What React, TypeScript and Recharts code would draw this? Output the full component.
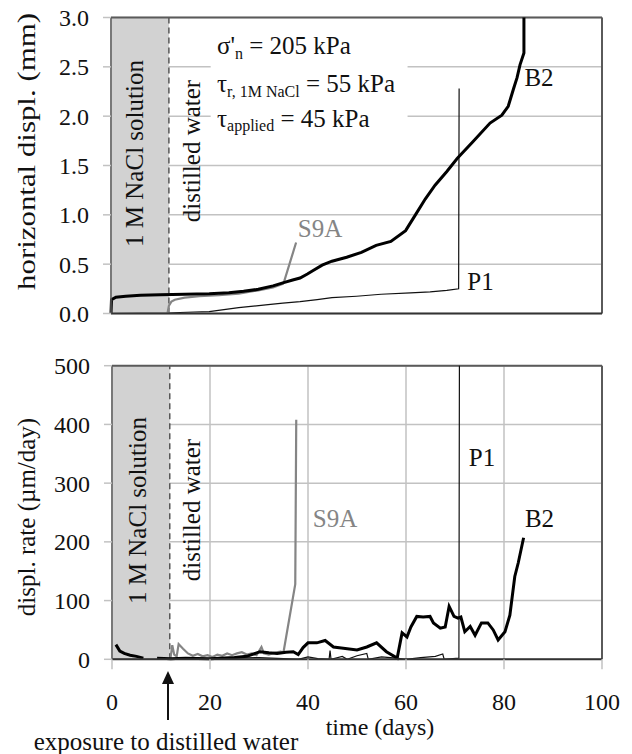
import React from 'react';
import { LineChart, Line, XAxis, YAxis, CartesianGrid, ReferenceArea, ReferenceLine } from 'recharts';

const timeTicks = [0, 20, 40, 60, 80, 100];
const displTicks = [0, 0.5, 1, 1.5, 2, 2.5, 3];
const rateTicks = [0, 100, 200, 300, 400, 500];
const exposureDay = 11.8;

// horizontal displacement (mm) vs time (days)
const b2Displ: [number, number][] = [
  [0, 0], [0.1, 0.14], [1, 0.165], [3, 0.175], [6, 0.185], [10, 0.19], [15, 0.195], [20, 0.2],
  [24, 0.21], [27, 0.225], [30, 0.245], [33, 0.28], [35, 0.31], [37, 0.34], [38.5, 0.36], [40, 0.4],
  [41, 0.43], [43, 0.49], [45, 0.53], [48, 0.57], [51, 0.62], [54, 0.69], [57, 0.73], [60, 0.84],
  [62, 1.0], [64, 1.16], [66, 1.3], [68.4, 1.44], [70.5, 1.57], [73.7, 1.74], [77.2, 1.93],
  [79.6, 2.01], [80.9, 2.1], [82, 2.28], [82.7, 2.39], [83.3, 2.52], [84.1, 2.64], [84.1, 3.0],
];
const s9aDispl: [number, number][] = [
  [11.5, 0], [11.8, 0.08], [12.3, 0.12], [13, 0.14], [15, 0.16], [18, 0.175], [22, 0.185],
  [26, 0.2], [30, 0.235], [33, 0.265], [35, 0.3], [35.3, 0.33], [37.7, 0.72],
];
const p1Displ: [number, number][] = [
  [0, 0], [12, 0.005], [14, 0.01], [17, 0.015], [20, 0.02], [23, 0.04], [26, 0.06], [29, 0.075],
  [32, 0.09], [35, 0.105], [38.5, 0.12], [42, 0.14], [45, 0.16], [50, 0.175], [55, 0.195],
  [61, 0.21], [65, 0.22], [68.4, 0.235], [70.8, 0.25], [70.9, 2.28],
];

// displacement rate (µm/day) vs time (days)
const b2Rate: [number, number | null][] = [
  [0.8, 25], [1.6, 14], [2.5, 10], [3.7, 7], [5, 5], [6.4, 2], [7.8, null], [9.2, 2], [12, 1],
  [15, 2], [20, 1], [25, 3], [27.5, 5], [30.2, 13], [32, 11], [33.7, 10], [35.5, 12], [37, 13],
  [38, 8], [39, 20], [40, 28], [41.8, 28], [43.5, 32], [45.2, 21], [47.2, 19], [50, 16], [52, 21],
  [54, 28], [56, 13], [58.2, 2], [59.2, 45], [60.2, 38], [61, 55], [62.2, 73], [63.5, 72],
  [64.9, 73], [65.6, 62], [67, 53], [68, 55], [68.8, 90], [69.8, 73], [70.6, 70], [71.2, 72],
  [72, 47], [73.1, 56], [74.1, 41], [75.4, 62], [76.7, 62], [77.8, 50], [78.8, 33], [80.2, 47],
  [81.2, 75], [82.2, 141], [82.9, 164], [84, 207],
];
const s9aRate: [number, number][] = [
  [11.9, 0], [12.3, 24], [12.7, 8], [13.2, 5], [13.6, 26], [14.5, 18], [15.5, 10], [16.5, 6],
  [17.5, 9], [18.5, 5], [19.5, 7], [20.5, 4], [21.5, 8], [22.5, 6], [23.5, 10], [24.5, 7],
  [25.5, 10], [26.5, 12], [27.5, 8], [28.5, 10], [29.5, 7], [30.5, 21], [31, 10], [32, 8],
  [33, 11], [34.4, 13], [35, 12], [37.4, 128], [37.6, 408],
];
const p1Rate: [number, number][] = [
  [0, 0], [12, 0], [20, 0], [25, 2], [30, 3], [35, 1], [38, 0], [40, 4], [42, 1], [44.3, 0],
  [44.5, 15], [44.7, 0], [47, 5], [48, 0], [50, 6], [52, 10], [52.3, 0], [55, 4], [58, 2],
  [60, 0], [63, 3], [66, 5], [67.5, 9], [67.8, 0], [70.8, 2], [70.9, 500],
];

const toPts = (arr: [number, number | null][]) => arr.map(([t, v]) => ({ t, v }));

const FONT = 'Liberation Serif, Times New Roman, DejaVu Serif, serif';
const GRID = '#c2c2c2';
const BORDER = '#5a5a5a';
const SHADE = '#d2d2d2';
const GRAY_LINE = '#858585';

const tickStyle = { fill: '#111', fontSize: 24, fontFamily: FONT, style: { fontFamily: FONT } };
const ts = { fontFamily: FONT };

export default function App() {
  return (
    <div style={{ position: 'absolute', left: 0, top: 0, width: 632, height: 754, background: '#fff', fontFamily: FONT }}>
      <div style={{ position: 'absolute', left: 0, top: 0 }}>
        <LineChart width={632} height={330} margin={{ top: 17.5, right: 30, left: 0, bottom: 0 }} style={ts}>
          <CartesianGrid stroke={GRID} strokeWidth={1.5} />
          <XAxis dataKey="t" type="number" domain={[0, 100]} ticks={timeTicks} height={16.5}
            tick={false} tickSize={8} tickLine={{ stroke: GRID, strokeWidth: 1.5 }}
            axisLine={{ stroke: '#333', strokeWidth: 2 }} />
          <YAxis type="number" domain={[0, 3]} ticks={displTicks} width={111} tickSize={8} tickMargin={14}
            tickFormatter={(v: number) => v.toFixed(1)} tick={tickStyle}
            tickLine={{ stroke: GRID, strokeWidth: 1.5 }} axisLine={{ stroke: BORDER, strokeWidth: 1.5 }} />
          <ReferenceArea x1={0} x2={exposureDay} y1={0} y2={3} fill={SHADE} fillOpacity={1} stroke="none" />
          <ReferenceArea x1={20.3} x2={60.4} y1={1.68} y2={2.96} fill="#fff" fillOpacity={1} stroke="none" />
          <ReferenceLine x={exposureDay} stroke="#333" strokeWidth={1.2} strokeDasharray="6 4" />
          <ReferenceLine y={3} stroke={BORDER} strokeWidth={2} />
          <ReferenceLine x={100} stroke={BORDER} strokeWidth={2} />
          <Line data={toPts(p1Displ)} dataKey="v" type="linear" stroke="#111" strokeWidth={1.2} dot={false} isAnimationActive={false} />
          <Line data={toPts(s9aDispl)} dataKey="v" type="linear" stroke={GRAY_LINE} strokeWidth={2.2} dot={false} isAnimationActive={false} />
          <Line data={toPts(b2Displ)} dataKey="v" type="linear" stroke="#000" strokeWidth={3} dot={false} isAnimationActive={false} />
        </LineChart>
      </div>
      <div style={{ position: 'absolute', left: 0, top: 330 }}>
        <LineChart width={632} height={424} margin={{ top: 35.7, right: 30, left: 0, bottom: 34.7 }} style={ts}>
          <CartesianGrid stroke={GRID} strokeWidth={1.5} />
          <XAxis dataKey="t" type="number" domain={[0, 100]} ticks={timeTicks} height={60}
            tick={tickStyle} tickSize={10} tickMargin={24} tickLine={{ stroke: GRID, strokeWidth: 1.5 }}
            axisLine={{ stroke: '#333', strokeWidth: 2 }} />
          <YAxis type="number" domain={[0, 500]} ticks={rateTicks} width={112} tickSize={8} tickMargin={14}
            tick={tickStyle} tickLine={{ stroke: GRID, strokeWidth: 1.5 }} axisLine={{ stroke: BORDER, strokeWidth: 1.5 }} />
          <ReferenceArea x1={0} x2={exposureDay} y1={0} y2={500} fill={SHADE} fillOpacity={1} stroke="none" />
          <ReferenceLine x={exposureDay} stroke="#333" strokeWidth={1.2} strokeDasharray="6 4" />
          <ReferenceLine y={500} stroke={BORDER} strokeWidth={2} />
          <ReferenceLine x={100} stroke={BORDER} strokeWidth={2} />
          <Line data={toPts(p1Rate)} dataKey="v" type="linear" stroke="#111" strokeWidth={1.2} dot={false} isAnimationActive={false} />
          <Line data={toPts(s9aRate)} dataKey="v" type="linear" stroke={GRAY_LINE} strokeWidth={2.2} dot={false} isAnimationActive={false} />
          <Line data={toPts(b2Rate)} dataKey="v" type="linear" stroke="#000" strokeWidth={3} dot={false} isAnimationActive={false} connectNulls={false} />
        </LineChart>
      </div>
      <svg width={632} height={754} style={{ position: 'absolute', left: 0, top: 0, pointerEvents: 'none', fontFamily: FONT }}>
        {/* axis titles */}
        <text x={35} y={151.5} transform="rotate(-90 35 151.5)" textAnchor="middle" fontSize={25} fill="#111" style={ts}
          textLength={277} lengthAdjust="spacingAndGlyphs">horizontal displ. (mm)</text>
        <text x={35} y={517} transform="rotate(-90 35 517)" textAnchor="middle" fontSize={25} fill="#111" style={ts}>displ. rate (µm/day)</text>
        <text x={380} y={735} textAnchor="middle" fontSize={24} fill="#111" style={ts}>time (days)</text>
        <text x={166} y={750} textAnchor="middle" fontSize={25} fill="#111" style={ts}>exposure to distilled water</text>
        {/* arrow */}
        <line x1={168} y1={720} x2={168} y2={682} stroke="#111" strokeWidth={2} />
        <polygon points="162,684 174,684 168,671" fill="#111" />
        {/* vertical region labels */}
        <text x={143} y={153.5} transform="rotate(-90 143 153.5)" textAnchor="middle" fontSize={25} fill="#111" style={ts}>1 M NaCl solution</text>
        <text x={200} y={151} transform="rotate(-90 200 151)" textAnchor="middle" fontSize={25} fill="#111" style={ts}>distilled water</text>
        <text x={146} y={510.5} transform="rotate(-90 146 510.5)" textAnchor="middle" fontSize={25} fill="#111" style={ts}>1 M NaCl solution</text>
        <text x={200} y={510} transform="rotate(-90 200 510)" textAnchor="middle" fontSize={25} fill="#111" style={ts}>distilled water</text>
        {/* test conditions */}
        <text x={217} y={54} fontSize={25} fill="#111" style={ts}>σ'<tspan fontSize={16} dy={5}>n</tspan><tspan dy={-5}> = 205 kPa</tspan></text>
        <text x={217} y={92} fontSize={25} fill="#111" style={ts}>τ<tspan fontSize={16} dy={5}>r, 1M NaCl</tspan><tspan dy={-5}> = 55 kPa</tspan></text>
        <text x={217} y={127} fontSize={25} fill="#111" style={ts}>τ<tspan fontSize={16} dy={4}>applied</tspan><tspan dy={-4}> = 45 kPa</tspan></text>
        {/* series labels */}
        <text x={320} y={237} textAnchor="middle" fontSize={25} fill={GRAY_LINE} style={ts}>S9A</text>
        <text x={539} y={86} textAnchor="middle" fontSize={25} fill="#111" style={ts}>B2</text>
        <text x={480.5} y={290} textAnchor="middle" fontSize={25} fill="#111" style={ts}>P1</text>
        <text x={482} y={466} textAnchor="middle" fontSize={25} fill="#111" style={ts}>P1</text>
        <text x={335} y={527} textAnchor="middle" fontSize={25} fill={GRAY_LINE} style={ts}>S9A</text>
        <text x={539.5} y={527} textAnchor="middle" fontSize={25} fill="#111" style={ts}>B2</text>
      </svg>
    </div>
  );
}
